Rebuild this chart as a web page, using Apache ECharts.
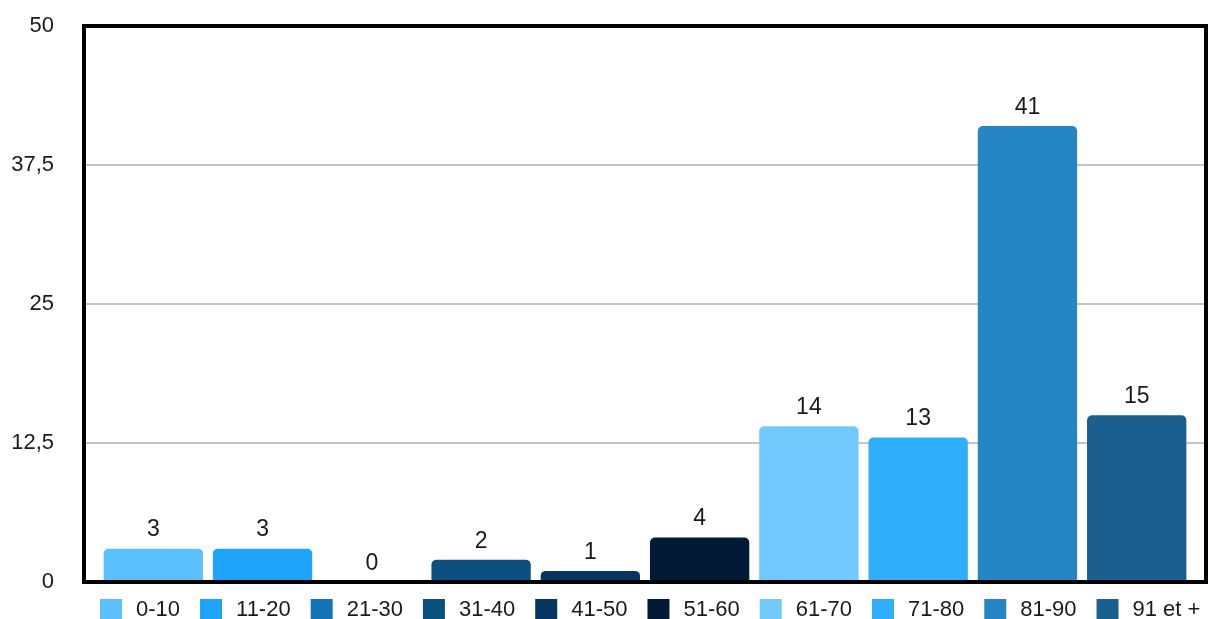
<!DOCTYPE html>
<html>
<head>
<meta charset="utf-8">
<script src="https://cdn.jsdelivr.net/npm/echarts@6/dist/echarts.min.js"></script>
<style>
  html, body { margin: 0; padding: 0; background: #fff; }
  #chart { width: 1217px; height: 619px; }
</style>
</head>
<body>
<div id="chart"></div>
<script>
var ageGroups = ['0-10', '11-20', '21-30', '31-40', '41-50', '51-60', '61-70', '71-80', '81-90', '91 et +'];
var counts = [3, 3, 0, 2, 1, 4, 14, 13, 41, 15];
var groupColors = ['#5bc1fc', '#1fa4fc', '#1474b5', '#0b507f', '#073561', '#031a37', '#71c9fe', '#2faffb', '#2686c3', '#1b5f8e'];
var yTicks = [0, 12.5, 25, 37.5, 50];

var font = 'Liberation Sans, Arial, Helvetica, sans-serif';
var chart = echarts.init(document.getElementById('chart'));

// plot box, also used for the thick black frame
var box = { left: 84, right: 11, top: 26, bottom: 37 };

var series = ageGroups.map(function (name, i) {
  return {
    name: name,
    type: 'bar',
    data: [counts[i]],
    barGap: '10%',
    barCategoryGap: '3.5%',
    itemStyle: {
      color: groupColors[i],
      borderRadius: [5, 5, 0, 0]
    },
    label: {
      show: true,
      position: 'top',
      distance: 7,
      color: '#1a1a1a',
      fontSize: 23,
      fontFamily: font
    }
  };
});

chart.setOption({
  animation: false,
  grid: {
    left: box.left,
    right: box.right,
    top: box.top,
    bottom: box.bottom,
    containLabel: false
  },
  legend: {
    data: ageGroups,
    top: 599,
    left: 100,
    width: 1117,
    padding: 0,
    itemWidth: 22,
    itemHeight: 22,
    itemGap: 20,
    icon: 'rect',
    textStyle: {
      fontSize: 22,
      color: '#1a1a1a',
      fontFamily: font,
      padding: [0, 0, 0, 9]
    }
  },
  xAxis: {
    type: 'category',
    data: [''],
    axisLine: { show: false },
    axisTick: { show: false },
    axisLabel: { show: false }
  },
  yAxis: {
    type: 'value',
    min: yTicks[0],
    max: yTicks[yTicks.length - 1],
    interval: 12.5,
    axisLine: { show: false },
    axisTick: { show: false },
    axisLabel: {
      color: '#1a1a1a',
      fontSize: 22,
      margin: 30,
      fontFamily: font,
      formatter: function (v) { return String(v).replace('.', ','); }
    },
    splitLine: {
      lineStyle: { color: '#c4c4c4', width: 2 }
    }
  },
  graphic: [{
    type: 'rect',
    z: 100,
    silent: true,
    shape: {
      x: box.left,
      y: box.top,
      width: 1217 - box.left - box.right,
      height: 619 - box.top - box.bottom
    },
    style: { fill: null, stroke: '#000', lineWidth: 4 }
  }],
  series: series
});
</script>
</body>
</html>
